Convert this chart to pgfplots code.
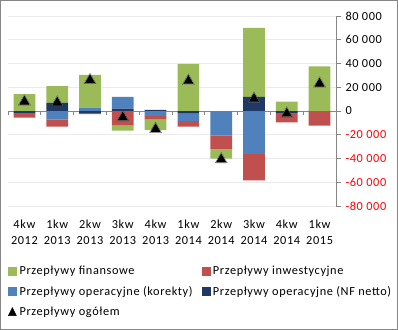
\documentclass[border=0pt]{standalone}
\usepackage{pgfplots}
\usepackage{pgfplotstable}
\pgfplotsset{compat=1.18}
\usepackage{fontspec}
\setmainfont{Carlito}[LetterSpace=5]
\definecolor{cgreen}{HTML}{9BBB59}
\definecolor{cred}{HTML}{C0504D}
\definecolor{cblue}{HTML}{4F81BD}
\definecolor{cnavy}{HTML}{1F3864}
\definecolor{axgray}{HTML}{868686}
\definecolor{gridc}{HTML}{EBEBEB}
\definecolor{negred}{HTML}{FF0000}

% positive parts (stack order from zero: NF netto, korekty, inwestycyjne, finansowe)
\pgfplotstableread{
x navy blue red green
0 0     0    0 14300
1 6750  0    0 14300
2 0     2800 0 27600
3 2000  9800 0 0
4 1000  0    0 0
5 0     0    0 39700
6 0     0    0 0
7 12000 0    0 58000
8 0     0    0 8000
9 0     0    0 37500
}\postab
% negative parts
\pgfplotstableread{
x navy blue red green
0 -1500 0      -4000  0
1 0     -7000  -6200  0
2 -1500 0      -1200  0
3 0     0      -11800 -4800
4 0     -4000  -2800  -9000
5 -1700 -6700  -4800  0
6 0     -20500 -11300 -8400
7 0     -36000 -22500 0
8 -1500 0      -8000  0
9 0     0      -12300 0
}\negtab
% total
\pgfplotstableread{
x total
0 7900
1 7000
2 26000
3 -5400
4 -15300
5 25300
6 -40800
7 10300
8 -2300
9 23000
}\tottab

\pgfplotsset{
  base/.style={scale only axis, width=328bp, height=190bp,
    xmin=-0.5, xmax=9.5, ymin=-80000, ymax=80000,
    at={(8bp,124bp)}, anchor=south west, scaled y ticks=false},
  bars/.style={base, hide axis, ybar stacked, bar width=21.7bp},
}

\begin{document}
\begin{tikzpicture}[x=1bp,y=1bp]
\draw[axgray, line width=1bp] (0.5,0.5) rectangle (397.5,329.5);

% frame: grid, right y axis, category labels
\begin{axis}[base,
  font=\fontsize{12.3bp}{16bp}\selectfont,
  axis y line*=right, axis x line*=bottom,
  x axis line style={draw=none},
  xtick={0,...,9}, xtick style={draw=none},
  xticklabels={{4kw\\2012},{1kw\\2013},{2kw\\2013},{3kw\\2013},{4kw\\2013},{1kw\\2014},{2kw\\2014},{3kw\\2014},{4kw\\2014},{1kw\\2015}},
  xticklabel style={align=center, anchor=north, yshift=-5bp},
  ytick={-80000,-60000,-40000,-20000,0,20000,40000,60000,80000},
  yticklabels={\textcolor{negred}{-80 000},\textcolor{negred}{-60 000},\textcolor{negred}{-40 000},\textcolor{negred}{-20 000},0,20 000,40 000,60 000,80 000},
  yticklabel style={anchor=west, xshift=1bp},
  ymajorgrids, major grid style={gridc, line width=0.8bp},
  y axis line style={axgray, line width=0.8bp},
  ytick style={axgray, line width=0.8bp},
  tick align=outside, major tick length=5bp,
]
\end{axis}

% zero line with category boundary ticks
\begin{axis}[base, axis x line=middle, axis y line=none,
  axis line style={-, axgray, line width=0.8bp},
  xtick={-0.5,0.5,...,9.5}, xticklabels={},
  xtick style={axgray, line width=0.8bp},
  tick align=outside, major tick length=4bp,
]
\end{axis}

% positive stack
\begin{axis}[bars]
\addplot[fill=cnavy, draw=none] table[x=x, y=navy] {\postab};
\addplot[fill=cblue, draw=none] table[x=x, y=blue] {\postab};
\addplot[fill=cred, draw=none] table[x=x, y=red] {\postab};
\addplot[fill=cgreen, draw=none] table[x=x, y=green] {\postab};
\end{axis}

% negative stack
\begin{axis}[bars]
\addplot[fill=cnavy, draw=none] table[x=x, y=navy] {\negtab};
\addplot[fill=cblue, draw=none] table[x=x, y=blue] {\negtab};
\addplot[fill=cred, draw=none] table[x=x, y=red] {\negtab};
\addplot[fill=cgreen, draw=none] table[x=x, y=green] {\negtab};
\end{axis}

% totals and legend
\begin{axis}[base, hide axis,
  legend columns=2,
  legend cell align=left,
  legend style={at={(axis description cs:0,-0.31)}, anchor=north west,
    draw=none, fill=none, font=\fontsize{12.3bp}{15bp}\selectfont,
    row sep=8bp, inner sep=0pt,
    nodes={inner xsep=3bp, inner ysep=1bp},
    /tikz/every even column/.append style={column sep=6bp}},
]
\addplot[only marks, mark=triangle*, mark size=7, draw=none, fill=white, opacity=0.55, forget plot] table[x=x, y=total] {\tottab};
\addlegendimage{legend image code/.code={\fill[cgreen] (0bp,-4bp) rectangle (8bp,4bp);}}
\addlegendentry{Przepływy finansowe}
\addlegendimage{legend image code/.code={\fill[cred] (0bp,-4bp) rectangle (8bp,4bp);}}
\addlegendentry{Przepływy inwestycyjne}
\addlegendimage{legend image code/.code={\fill[cblue] (0bp,-4bp) rectangle (8bp,4bp);}}
\addlegendentry{Przepływy operacyjne (korekty)}
\addlegendimage{legend image code/.code={\fill[cnavy] (0bp,-4bp) rectangle (8bp,4bp);}}
\addlegendentry{Przepływy operacyjne (NF netto)}
\addplot[only marks, mark=triangle*, mark size=5.5, black,
  legend image code/.code={\fill[black] (0bp,-4bp) -- (8bp,-4bp) -- (4bp,4bp) -- cycle;}]
  table[x=x, y=total] {\tottab};
\addlegendentry{Przepływy ogółem}
\end{axis}
\end{tikzpicture}
\end{document}
